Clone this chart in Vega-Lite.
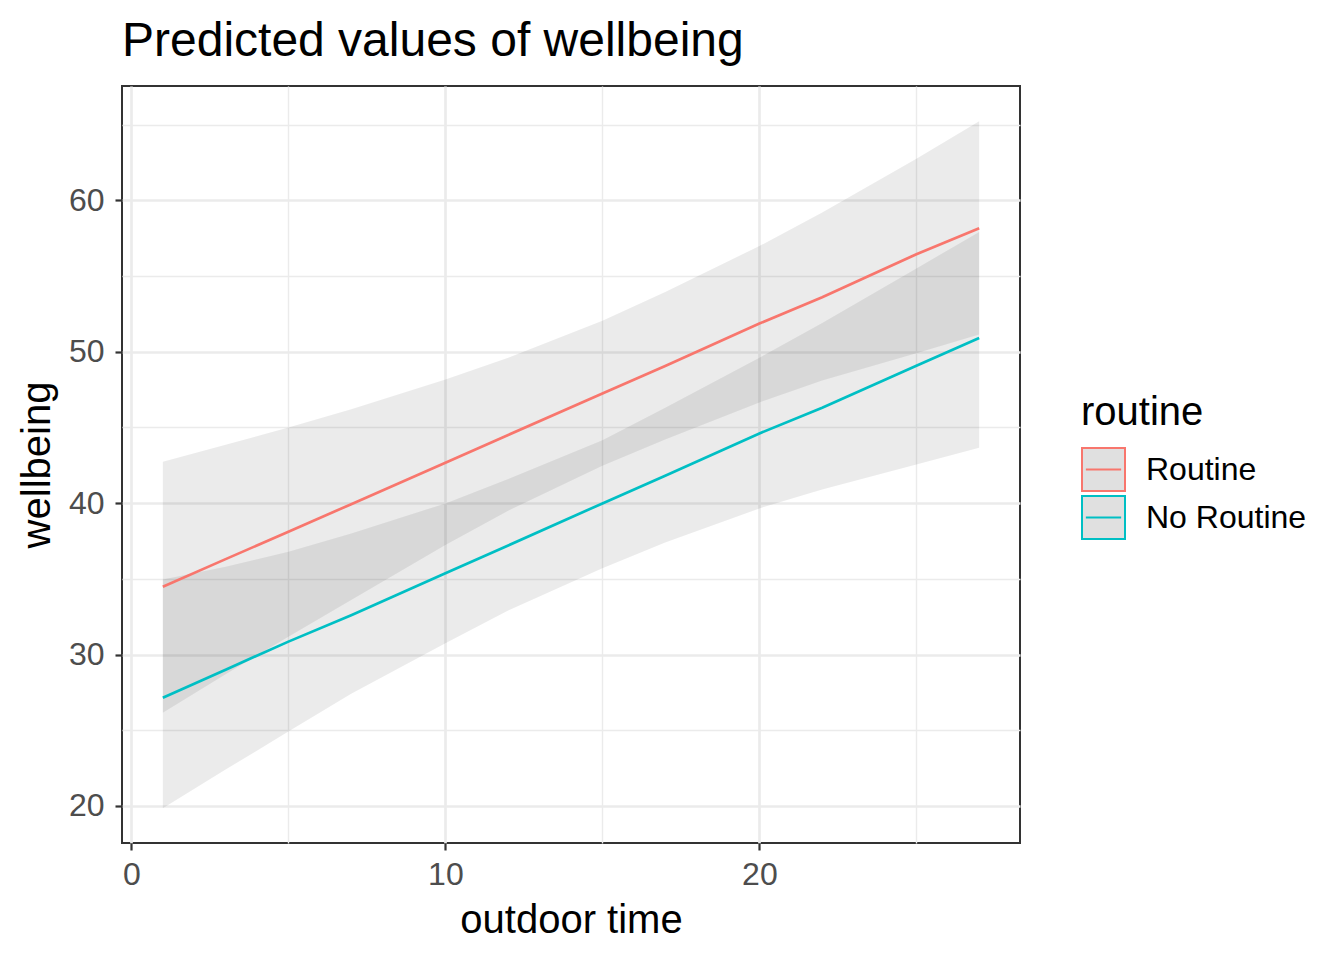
{
  "$schema": "https://vega.github.io/schema/vega-lite/v6.json",
  "width": 898,
  "height": 757,
  "autosize": {"type": "none"},
  "padding": {"left": 122, "top": 86, "right": 324, "bottom": 117},
  "title": {
    "text": "Predicted values of wellbeing",
    "anchor": "start",
    "frame": "group",
    "font": "Liberation Sans",
    "fontSize": 48,
    "fontWeight": "normal",
    "color": "#000000",
    "baseline": "alphabetic",
    "offset": -18
  },
  "config": {
    "view": {"stroke": "#333333", "strokeWidth": 2},
    "font": "Liberation Sans"
  },
  "data": {
    "values": [
      {"x": 1, "group": "Routine", "pred": 34.48, "lo": 26.16, "hi": 42.73},
      {"x": 3, "group": "Routine", "pred": 36.3, "lo": 28.7, "hi": 43.85},
      {"x": 5, "group": "Routine", "pred": 38.11, "lo": 31.18, "hi": 45.0},
      {"x": 7, "group": "Routine", "pred": 39.93, "lo": 33.6, "hi": 46.2},
      {"x": 10, "group": "Routine", "pred": 42.66, "lo": 37.23, "hi": 48.16},
      {"x": 12, "group": "Routine", "pred": 44.5, "lo": 39.5, "hi": 49.6},
      {"x": 15, "group": "Routine", "pred": 47.24, "lo": 42.47, "hi": 52.04},
      {"x": 17, "group": "Routine", "pred": 49.05, "lo": 44.2, "hi": 53.95},
      {"x": 20, "group": "Routine", "pred": 51.86, "lo": 46.65, "hi": 56.98},
      {"x": 22, "group": "Routine", "pred": 53.6, "lo": 48.1, "hi": 59.2},
      {"x": 25, "group": "Routine", "pred": 56.44, "lo": 49.9, "hi": 62.75},
      {"x": 27, "group": "Routine", "pred": 58.15, "lo": 51.13, "hi": 65.23},
      {"x": 1, "group": "No Routine", "pred": 27.15, "lo": 19.85, "hi": 34.96},
      {"x": 3, "group": "No Routine", "pred": 29.0, "lo": 22.4, "hi": 35.8},
      {"x": 5, "group": "No Routine", "pred": 30.85, "lo": 24.91, "hi": 36.79},
      {"x": 7, "group": "No Routine", "pred": 32.6, "lo": 27.4, "hi": 38.0},
      {"x": 10, "group": "No Routine", "pred": 35.36, "lo": 30.74, "hi": 39.98},
      {"x": 12, "group": "No Routine", "pred": 37.2, "lo": 32.9, "hi": 41.6},
      {"x": 15, "group": "No Routine", "pred": 39.98, "lo": 35.69, "hi": 44.16},
      {"x": 17, "group": "No Routine", "pred": 41.8, "lo": 37.4, "hi": 46.3},
      {"x": 20, "group": "No Routine", "pred": 44.6, "lo": 39.65, "hi": 49.6},
      {"x": 22, "group": "No Routine", "pred": 46.3, "lo": 40.9, "hi": 51.9},
      {"x": 25, "group": "No Routine", "pred": 49.07, "lo": 42.55, "hi": 55.5},
      {"x": 27, "group": "No Routine", "pred": 50.91, "lo": 43.65, "hi": 57.91}
    ]
  },
  "encoding": {
    "x": {
      "field": "x",
      "type": "quantitative",
      "scale": {"domain": [-0.3, 28.3], "nice": false, "zero": false},
      "axis": {
        "title": "outdoor time",
        "values": [0, 5, 10, 15, 20, 25],
        "labelExpr": "datum.value % 10 === 0 ? datum.label : ''",
        "domain": false,
        "grid": true,
        "gridColor": "#EBEBEB",
        "gridWidth": {"condition": {"test": "datum.value % 10 === 0", "value": 2.7}, "value": 1.4},
        "ticks": true,
        "tickColor": "#333333",
        "tickWidth": 2.2,
        "tickSize": 7,
        "tickOpacity": {"condition": {"test": "datum.value % 10 === 0", "value": 1}, "value": 0},
        "labelFont": "Liberation Sans",
        "labelFontSize": 32,
        "labelColor": "#4D4D4D",
        "labelPadding": 9,
        "titleFont": "Liberation Sans",
        "titleFontSize": 40,
        "titleFontWeight": "normal",
        "titleColor": "#000000",
        "titlePadding": 10
      }
    }
  },
  "layer": [
    {
      "mark": {"type": "area", "fill": "#000000", "opacity": 0.08},
      "encoding": {
        "y": {
          "field": "lo",
          "type": "quantitative",
          "scale": {"domain": [17.55, 67.55], "nice": false, "zero": false},
          "axis": {
            "title": "wellbeing",
            "values": [20, 25, 30, 35, 40, 45, 50, 55, 60, 65],
            "labelExpr": "datum.value % 10 === 0 ? datum.label : ''",
            "domain": false,
            "grid": true,
            "gridColor": "#EBEBEB",
            "gridWidth": {"condition": {"test": "datum.value % 10 === 0", "value": 2.7}, "value": 1.4},
            "ticks": true,
            "tickColor": "#333333",
            "tickWidth": 2.2,
            "tickSize": 7,
            "tickOpacity": {"condition": {"test": "datum.value % 10 === 0", "value": 1}, "value": 0},
            "labelFont": "Liberation Sans",
            "labelFontSize": 32,
            "labelColor": "#4D4D4D",
            "labelPadding": 11,
            "titleFont": "Liberation Sans",
            "titleFontSize": 40,
            "titleFontWeight": "normal",
            "titleColor": "#000000",
            "titlePadding": 11
          }
        },
        "y2": {"field": "hi"},
        "detail": {"field": "group"}
      }
    },
    {
      "mark": {"type": "line", "strokeWidth": 2.7},
      "encoding": {
        "y": {"field": "pred", "type": "quantitative"},
        "color": {
          "field": "group",
          "type": "nominal",
          "scale": {"domain": ["Routine", "No Routine"], "range": ["#F8766D", "#00BFC4"]},
          "legend": {
            "title": "routine",
            "orient": "none",
            "legendX": 959,
            "legendY": 307,
            "titleFont": "Liberation Sans",
            "titleFontSize": 40,
            "titleFontWeight": "normal",
            "titleColor": "#000000",
            "titlePadding": 14,
            "labelFont": "Liberation Sans",
            "labelFontSize": 32,
            "labelColor": "#000000",
            "labelOffset": 20,
            "labelLimit": 0,
            "rowPadding": -9,
            "symbolType": "M-1,-1H1V1H-1Z M-0.82,0H0.82",
            "symbolSize": 1849,
            "symbolStrokeWidth": 2,
            "encode": {
              "symbols": {"update": {"fill": {"value": "#E0E0E0"}, "fillOpacity": {"value": 1}}}
            }
          }
        }
      }
    }
  ]
}
